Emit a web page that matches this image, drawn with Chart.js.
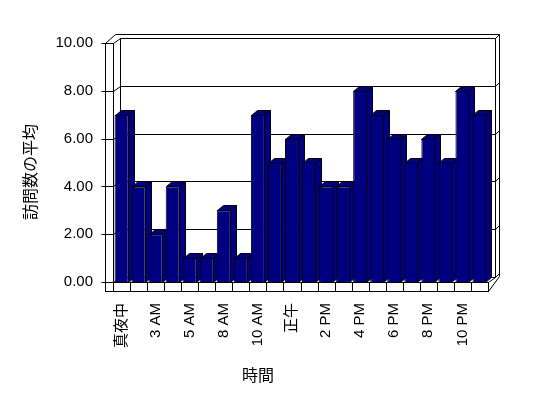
<!DOCTYPE html>
<html>
<head>
<meta charset="utf-8">
<script src="https://cdn.jsdelivr.net/npm/chart.js@4"></script>
<style>
  body { margin: 0; background: #fff; }
</style>
</head>
<body>
<canvas id="grafico" width="548" height="398"></canvas>
<script>
const horas = ["真夜中", "1 AM", "3 AM", "4 AM", "5 AM", "7 AM", "8 AM", "9 AM", "10 AM", "11 AM", "正午",
  "1 PM", "2 PM", "3 PM", "4 PM", "5 PM", "6 PM", "7 PM", "8 PM", "9 PM", "10 PM", "11 PM"];
const promedioVisitas = [7, 4, 2, 4, 1, 1, 3, 1, 7, 5, 6, 5, 4, 4, 8, 7, 6, 5, 6, 5, 8, 7];
const ticksY = [0, 2, 4, 6, 8, 10];
const tituloX = "時間";
const tituloY = "訪問数の平均";

const azul = "#000080";
const fuente = '"Liberation Sans", "Noto Sans CJK JP", sans-serif';

// caja 3D: paredes, suelo y lineas de division
const caja3d = {
  id: "caja3d",
  beforeDatasetsDraw(chart) {
    const ctx = chart.ctx;
    const { left: L, right: R, top: T, bottom: B } = chart.chartArea;
    const ys = chart.scales.y;
    const xs = chart.scales.x;
    const wx = 7, wy = 5, th = 8, fl = 9;

    ctx.save();
    ctx.strokeStyle = "#000";
    ctx.lineWidth = 1;
    ctx.translate(0.5, 0.5);

    const linea = (pts) => {
      ctx.beginPath();
      ctx.moveTo(pts[0][0], pts[0][1]);
      for (let i = 1; i < pts.length; i++) ctx.lineTo(pts[i][0], pts[i][1]);
      ctx.stroke();
    };

    // pared del fondo y lineas de la grilla
    ticksY.forEach((v) => {
      const y = Math.round(ys.getPixelForValue(v));
      linea([[L - th - 4, y], [L, y], [L + wx, y - wy], [R + wx, y - wy], [R + wx + 4, y - wy - 4]]);
    });
    linea([[L + wx, T - wy], [L + wx, B - wy]]);
    linea([[R + wx, T - wy], [R + wx, B - wy]]);

    // contorno exterior
    linea([[L - th, T], [L - th + wx + 3, T - wy - 4], [R + wx + 4, T - wy - 4], [R + wx + 4, B - wy - 1], [R, B + fl]]);
    linea([[R, B], [R + wx, B - wy]]);

    // pared izquierda (cara frontal)
    ctx.strokeRect(Math.round(L - th), Math.round(T), th, Math.round(B + fl - T));

    // suelo
    ctx.strokeRect(Math.round(L), Math.round(B), Math.round(R - L), fl);
    const anchoCat = (R - L) / horas.length;
    for (let i = 1; i < horas.length; i++) {
      const x = Math.round(xs.getPixelForValue(i) - anchoCat / 2);
      linea([[x, B], [x, B + fl]]);
    }

    // caras superiores y laterales de las barras
    const dx = 6, dy = 5;
    const meta = chart.getDatasetMeta(0);
    ctx.fillStyle = azul;
    meta.data.forEach((bar) => {
      const { x, y, base, width } = bar.getProps(["x", "y", "base", "width"], true);
      const xl = Math.round(x - width / 2), xr = Math.round(x + width / 2) - 1;
      const yt = Math.round(y), yb = Math.round(base);
      const caras = [
        [[xl, yt], [xl + dx, yt - dy], [xr + dx, yt - dy], [xr, yt]],
        [[xr, yt], [xr + dx, yt - dy], [xr + dx, yb - dy], [xr, yb]]
      ];
      caras.forEach((p) => {
        ctx.beginPath();
        ctx.moveTo(p[0][0], p[0][1]);
        p.slice(1).forEach((q) => ctx.lineTo(q[0], q[1]));
        ctx.closePath();
        ctx.fill();
        ctx.stroke();
      });
    });
    ctx.restore();
  },
  afterDraw(chart) {
    const ctx = chart.ctx;
    ctx.save();
    ctx.fillStyle = "#000";
    ctx.font = '16px "Noto Sans CJK JP", sans-serif';
    ctx.textAlign = "center";
    ctx.textBaseline = "middle";
    ctx.fillText(tituloX, 258, 375);
    ctx.translate(30, 172);
    ctx.rotate(-Math.PI / 2);
    ctx.fillText(tituloY, 0, 0);
    ctx.restore();
  }
};

new Chart(document.querySelector("#grafico"), {
  type: "bar",
  data: {
    labels: horas,
    datasets: [{
      data: promedioVisitas,
      backgroundColor: azul,
      borderColor: "#000",
      borderWidth: 1,
      barPercentage: 0.82,
      categoryPercentage: 1
    }]
  },
  options: {
    responsive: false,
    animation: false,
    layout: { padding: { top: 43, right: 60, left: 0, bottom: 0 } },
    plugins: { legend: { display: false }, tooltip: { enabled: false } },
    scales: {
      x: {
        grid: { display: false, drawTicks: false },
        border: { display: false },
        afterFit: (s) => { s.height = 116; },
        ticks: {
          autoSkip: false,
          maxRotation: 90,
          minRotation: 90,
          padding: 21,
          color: "#000",
          font: { family: fuente, size: 15 },
          callback: (v, i) => (i % 2 === 0 ? horas[i] : "")
        }
      },
      y: {
        min: 0,
        max: 10,
        grid: { display: false, drawTicks: false },
        border: { display: false },
        afterFit: (s) => { s.width = 113; },
        afterBuildTicks: (s) => { s.ticks = ticksY.map((v) => ({ value: v })); },
        ticks: {
          padding: 20,
          color: "#000",
          font: { family: fuente, size: 15 },
          callback: (v) => Number(v).toFixed(2)
        }
      }
    }
  },
  plugins: [caja3d]
});
</script>
</body>
</html>
